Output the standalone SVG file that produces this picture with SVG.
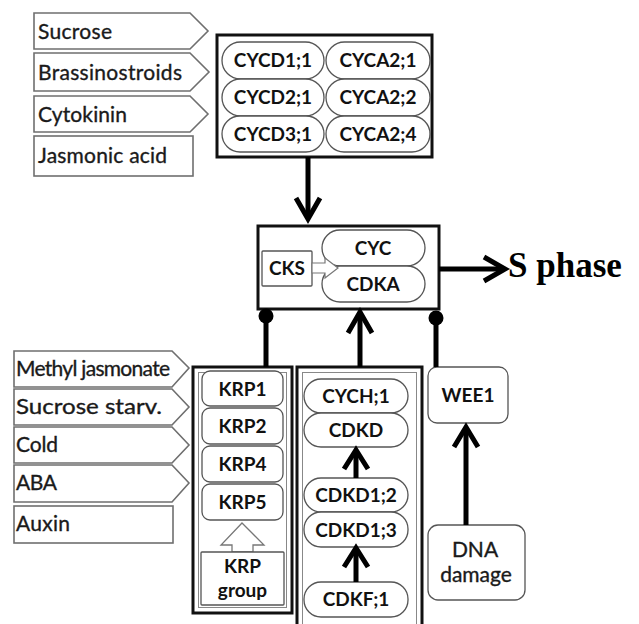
<svg xmlns="http://www.w3.org/2000/svg" width="639" height="624" viewBox="0 0 639 624">
<style>
.lab{fill:#fff;stroke:#6f6f6f;stroke-width:1.6}
.lt{font-family:Lato,"Open Sans",sans-serif;font-size:21px;fill:#1a1a1a;stroke:#1a1a1a;stroke-width:0.35}
.pill{fill:#fff;stroke:#555;stroke-width:1.3}
.pt{font-family:Lato,"Open Sans",sans-serif;font-size:19px;font-weight:bold;fill:#111;text-anchor:middle}
.box{fill:#fff;stroke:#111;stroke-width:3}
.inner{fill:none;stroke:#888;stroke-width:1}
.con{fill:none;stroke:#000;stroke-width:5}
.head{fill:none;stroke:#000;stroke-width:5;stroke-linejoin:miter;stroke-linecap:butt}
</style>
<rect width="639" height="624" fill="#fff"/>
<!-- top-left labels -->
<g id="sucrose"><polygon class="lab" points="34,13 190,13 208,31 190,49 34,49"/><text class="lt" x="38" y="39" textLength="74">Sucrose</text></g>
<g id="brassinostroids"><polygon class="lab" points="34,53 190,53 209,72 190,91 34,91"/><text class="lt" x="38" y="80" textLength="144">Brassinostroids</text></g>
<g id="cytokinin"><polygon class="lab" points="34,96 190,96 208,114 190,132 34,132"/><text class="lt" x="38" y="122" textLength="89">Cytokinin</text></g>
<g id="jasmonic-acid"><rect class="lab" x="34" y="136" width="159" height="40"/><text class="lt" x="38" y="163" textLength="129">Jasmonic acid</text></g>
<!-- cyclin box -->
<g id="cyclins">
<rect class="box" x="217" y="35" width="215" height="122" stroke-width="2.5"/>
<rect class="pill" x="222" y="42" width="102" height="37" rx="18.5"/><text class="pt" x="273" y="67">CYCD1;1</text>
<rect class="pill" x="326" y="42" width="104" height="37" rx="18.5"/><text class="pt" x="378" y="67">CYCA2;1</text>
<rect class="pill" x="222" y="79" width="102" height="37" rx="18.5"/><text class="pt" x="273" y="104">CYCD2;1</text>
<rect class="pill" x="326" y="79" width="104" height="37" rx="18.5"/><text class="pt" x="378" y="104">CYCA2;2</text>
<rect class="pill" x="222" y="116" width="102" height="36" rx="18"/><text class="pt" x="273" y="141">CYCD3;1</text>
<rect class="pill" x="326" y="116" width="104" height="36" rx="18"/><text class="pt" x="378" y="141">CYCA2;4</text>
</g>
<!-- CDK complex -->
<g id="complex">
<rect class="box" x="258" y="226" width="181" height="83"/>
<rect class="pill" x="322" y="230" width="103" height="36" rx="18"/><text class="pt" x="373" y="255">CYC</text>
<rect class="pill" x="322" y="266" width="103" height="36" rx="18"/><text class="pt" x="373" y="291">CDKA</text>
<rect class="pill" x="262" y="251" width="50" height="35" rx="1"/><text class="pt" x="287" y="275">CKS</text>
<polygon points="312,263 325,263 325,258 338,268 325,278 325,273 312,273" fill="#fff" stroke="#777" stroke-width="1.2"/>
</g>
<g id="s-phase"><text x="508" y="277" font-family="'Liberation Serif','Times New Roman',serif" font-size="35" font-weight="bold" fill="#000">S phase</text></g>
<!-- bottom-left labels -->
<g id="methyl-jasmonate"><polygon class="lab" points="14,351 172,351 189,368 172,387 14,387"/><text class="lt" x="16" y="376" font-size="20" textLength="154">Methyl jasmonate</text></g>
<g id="sucrose-starv"><polygon class="lab" points="14,389 172,389 189,407 172,425 14,425"/><text class="lt" x="16" y="414" textLength="146" lengthAdjust="spacingAndGlyphs">Sucrose starv.</text></g>
<g id="cold"><polygon class="lab" points="14,427 172,427 189,445 172,463 14,463"/><text class="lt" x="16" y="452" textLength="42">Cold</text></g>
<g id="aba"><polygon class="lab" points="14,465 172,465 189,483 172,502 14,502"/><text class="lt" x="16" y="490" textLength="41">ABA</text></g>
<g id="auxin"><rect class="lab" x="14" y="506" width="159" height="37"/><text class="lt" x="16" y="531" textLength="54">Auxin</text></g>
<!-- KRP box -->
<g id="krp">
<rect class="box" x="193" y="367" width="99" height="246"/>
<rect class="inner" x="198.5" y="372.5" width="88" height="235"/>
<rect class="pill" x="202" y="371" width="81" height="35" rx="8"/><text class="pt" x="242.5" y="396">KRP1</text>
<rect class="pill" x="202" y="408" width="81" height="36" rx="8"/><text class="pt" x="242.5" y="433">KRP2</text>
<rect class="pill" x="202" y="446" width="81" height="36" rx="8"/><text class="pt" x="242.5" y="471">KRP4</text>
<rect class="pill" x="202" y="484" width="81" height="36" rx="8"/><text class="pt" x="242.5" y="509">KRP5</text>
<polygon points="232,552 232,545 221,545 242,523 264,545 253,545 253,552" fill="#fff" stroke="#777" stroke-width="1.3"/>
<rect class="pill" x="201" y="552" width="83" height="53" rx="1"/>
<text class="pt" x="242.5" y="573">KRP</text><text class="pt" x="242.5" y="597">group</text>
</g>
<!-- CDK activating box -->
<g id="cak">
<rect class="box" x="297" y="367" width="125" height="270"/>
<rect class="inner" x="302.5" y="372.5" width="114" height="260"/>
<rect class="pill" x="304" y="379" width="104" height="34" rx="17"/><text class="pt" x="356" y="403">CYCH;1</text>
<rect class="pill" x="304" y="413" width="104" height="34" rx="17"/><text class="pt" x="356" y="437">CDKD</text>
<rect class="pill" x="304" y="478" width="104" height="34" rx="17"/><text class="pt" x="356" y="502">CDKD1;2</text>
<rect class="pill" x="304" y="512" width="104" height="35" rx="17"/><text class="pt" x="356" y="537">CDKD1;3</text>
<rect class="pill" x="304" y="582" width="104" height="35" rx="17"/><text class="pt" x="356" y="606">CDKF;1</text>
</g>
<g id="wee1"><rect class="pill" x="428" y="367" width="80" height="56" rx="9"/><text class="pt" x="468" y="402">WEE1</text></g>
<g id="dna-damage"><rect class="pill" x="428" y="525" width="97" height="75" rx="10"/>
<text class="lt" x="475" y="557" text-anchor="middle" font-size="19">DNA</text><text class="lt" x="476" y="582" text-anchor="middle" font-size="19">damage</text></g>
<!-- connectors -->
<g id="connectors">
<line class="con" x1="308" y1="157" x2="308" y2="218"/>
<polyline class="head" points="296,198 308,219 320,198"/>
<line class="con" x1="439" y1="269" x2="504" y2="269"/>
<polyline class="head" points="484,257 505,269 484,281"/>
<line class="con" x1="360" y1="367" x2="360" y2="312"/>
<polyline class="head" points="348,333 360,312 372,333"/>
<line class="con" x1="356" y1="478" x2="356" y2="451"/>
<polyline class="head" points="344,469 356,450 368,469"/>
<line class="con" x1="356" y1="582" x2="356" y2="550"/>
<polyline class="head" points="344,567 356,548 368,567"/>
<line class="con" x1="466" y1="525" x2="466" y2="428"/>
<polyline class="head" points="454,447 466,427 478,447"/>
<line class="con" x1="266" y1="316" x2="266" y2="367"/>
<circle cx="266" cy="316" r="7.5" fill="#000"/>
<line class="con" x1="436" y1="318" x2="436" y2="367"/>
<circle cx="436" cy="318" r="7.5" fill="#000"/>
</g>
</svg>
